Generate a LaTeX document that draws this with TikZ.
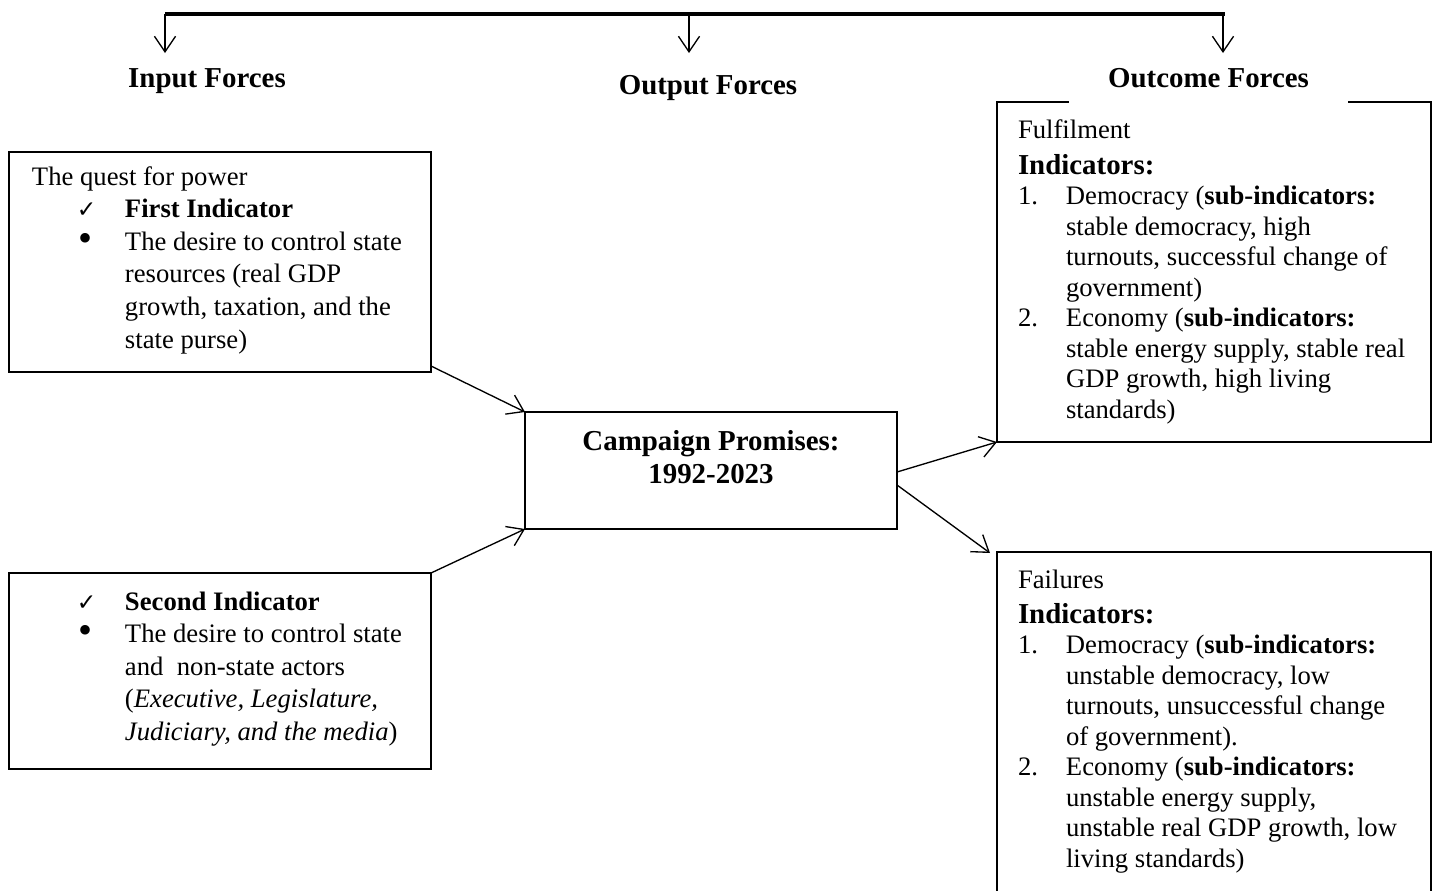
\documentclass[tikz,border=0pt]{standalone}
\usepackage{fontspec}
\setmainfont{Liberation Serif}
\newfontfamily\symfont{DejaVu Sans}
\usetikzlibrary{arrows.meta,calc}

% one unit of the drawing grid
\newlength\px
\setlength\px{0.45pt}

\newcommand\chkmark{{\symfont\fontsize{10.5}{10.5}\selectfont ✓}}
\newcommand\bulletmark{\raisebox{-1\px}{\fontsize{18}{18}\selectfont •}}
\newcommand\bodysize{\fontsize{12}{14.5}\selectfont}
\newcommand\headsize{\fontsize{13}{15}\selectfont\bfseries}
% a stack of lines whose baseline is the first line
\newcommand\stack[2]{\vtop{\baselineskip=#1\lineskiplimit=-20pt\relax #2}}

\begin{document}
\begin{tikzpicture}[x=0.45pt,y=-0.45pt,
  box/.style={draw, line width=1pt, inner sep=0pt, outer sep=0pt, anchor=north west},
  txt/.style={inner sep=0pt, outer sep=0pt, anchor=base west, font=\bodysize},
  head/.style={inner sep=0pt, outer sep=0pt, anchor=base, font=\headsize},
  link/.style={line width=0.6pt, -{Straight Barb[length=7pt,width=9.5pt]}},
]
\useasboundingbox (0,0) rectangle (1438,891);
\clip (0,0) rectangle (1438,891);

% frames
\node[box, minimum width=422\px, minimum height=220\px] (quest) at (9,152) {};
\node[box, minimum width=422\px, minimum height=196\px] (control) at (9,573) {};
\node[box, minimum width=372\px, minimum height=117\px] (promise) at (525,412) {};
\node[box, minimum width=434\px, minimum height=340\px] (fulfil) at (997,102) {};
\node[box, minimum width=434\px, minimum height=380\px] (fail) at (997,552) {};

% column headings
\node[head] (input) at (207,87) {Input Forces};
\node[head] (output) at (708,94) {Output Forces};
\node[head, fill=white, minimum width=279\px, text height=20\px, text depth=15\px,
      inner ysep=2\px] (outcome) at (1208.5,87) {Outcome Forces};

% distribution bar
\coordinate (barL) at (165,14);
\coordinate (barR) at (1225,14);
\coordinate (inTop) at (165,14);
\coordinate (inTip) at (165,53);
\coordinate (outTop) at (689,14);
\coordinate (outTip) at (689,53);
\coordinate (ocTop) at (1223,14);
\coordinate (ocTip) at (1223,53);
\draw[line width=2pt] (barL) -- (barR);
\draw[link] (inTop) -- (inTip);
\draw[link] (outTop) -- (outTip);
\draw[link] (ocTop) -- (ocTip);

% box texts
\node[txt] (questtxt) at (32,185) {\stack{32.6\px}{%
  \hbox{The quest for power}
  \hbox{\hspace*{45\px}\makebox[48\px][l]{\chkmark}\textbf{First Indicator}}
  \hbox{\hspace*{47\px}\makebox[46\px][l]{\bulletmark}The desire to control state}
  \hbox{\hspace*{93\px}resources (real GDP}
  \hbox{\hspace*{93\px}growth, taxation, and the}
  \hbox{\hspace*{93\px}state purse)}}};

\node[txt] (controltxt) at (32,610) {\stack{32.6\px}{%
  \hbox{\hspace*{45\px}\makebox[48\px][l]{\chkmark}\textbf{Second Indicator}}
  \hbox{\hspace*{47\px}\makebox[46\px][l]{\bulletmark}The desire to control state}
  \hbox{\hspace*{93\px}and\ \ non-state actors}
  \hbox{\hspace*{93\px}(\textit{Executive, Legislature,}}
  \hbox{\hspace*{93\px}\textit{Judiciary, and the media})}}};

\node[head] (promisetxt) at (711,450) {\stack{33\px}{%
  \halign{\hfil#\hfil\cr Campaign Promises:\cr 1992-2023\cr}}};

\node[txt] (fulfiltxt) at (1018,138) {\stack{30.5\px}{%
  \hbox{Fulfilment}
  \vskip 5.5\px
  \hbox{\headsize Indicators:}
  \hbox{\makebox[48\px][l]{1.}Democracy (\textbf{sub-indicators:}}
  \hbox{\hspace*{48\px}stable democracy, high}
  \hbox{\hspace*{48\px}turnouts, successful change of}
  \hbox{\hspace*{48\px}government)}
  \hbox{\makebox[48\px][l]{2.}Economy (\textbf{sub-indicators:}}
  \hbox{\hspace*{48\px}stable energy supply, stable real}
  \hbox{\hspace*{48\px}GDP growth, high living}
  \hbox{\hspace*{48\px}standards)}}};

\node[txt] (failtxt) at (1018,588) {\stack{30.5\px}{%
  \hbox{Failures}
  \vskip 4.5\px
  \hbox{\headsize Indicators:}
  \hbox{\makebox[48\px][l]{1.}Democracy (\textbf{sub-indicators:}}
  \hbox{\hspace*{48\px}unstable democracy, low}
  \hbox{\hspace*{48\px}turnouts, unsuccessful change}
  \hbox{\hspace*{48\px}of government).}
  \hbox{\makebox[48\px][l]{2.}Economy (\textbf{sub-indicators:}}
  \hbox{\hspace*{48\px}unstable energy supply,}
  \hbox{\hspace*{48\px}unstable real GDP growth, low}
  \hbox{\hspace*{48\px}living standards)}}};

% connectors
\draw[link] ($(quest.south east)+(0,-6)$) -- (promise.north west);
\draw[link] (control.north east) -- (promise.south west);
\draw[link] ($(promise.east)+(0,1.5)$) -- (fulfil.south west);
\draw[link] ($(promise.east)+(0,14.5)$) -- ($(fail.north west)+(-7,1)$);
\end{tikzpicture}
\end{document}
